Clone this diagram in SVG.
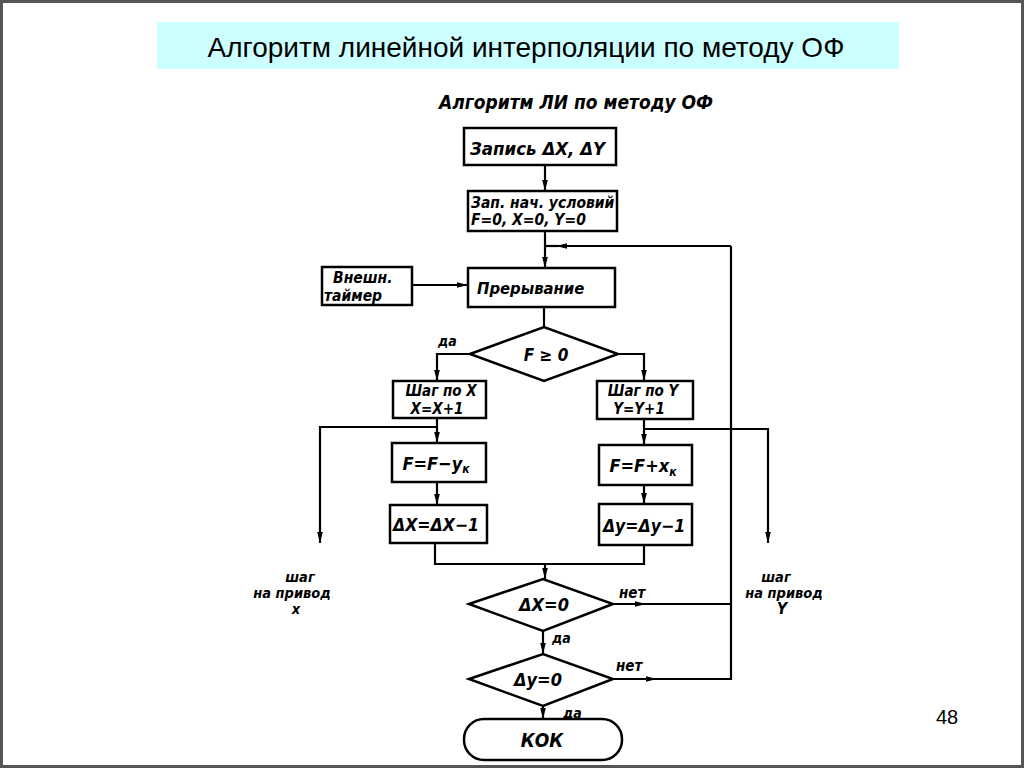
<svg xmlns="http://www.w3.org/2000/svg" width="1024" height="768" viewBox="0 0 1024 768">
<style>
.frame{fill:#fff;stroke:#555;stroke-width:3}
.box{fill:#fff;stroke:#000;stroke-width:2.5}
.ln{fill:none;stroke:#000;stroke-width:2.2}
.t{font-family:"DejaVu Sans Condensed","DejaVu Sans",sans-serif;font-style:oblique;font-weight:bold;fill:#000}
.c{text-anchor:middle}
.title{font-family:"Liberation Sans",Arial,sans-serif;font-size:28px;fill:#000;text-anchor:middle}
</style>
<defs>
<marker id="arr" markerWidth="12" markerHeight="8" refX="11" refY="4" orient="auto" markerUnits="userSpaceOnUse">
<path d="M0,1.2 L11,4 L0,6.8 Z" fill="#000"/>
</marker>
</defs>
<rect class="frame" x="1.5" y="1.5" width="1021" height="765"/>
<g id="header">
<rect x="157" y="22" width="742" height="47" fill="#ccffff"/>
<text class="title" x="526" y="57">Алгоритм линейной интерполяции по методу ОФ</text>
</g>
<text class="t c" x="576" y="109" font-size="19">Алгоритм  ЛИ  по методу ОФ</text>

<g id="connectors">
<path class="ln" d="M545,165 V191" marker-end="url(#arr)"/>
<path class="ln" d="M545,231 V268" marker-end="url(#arr)"/>
<path class="ln" d="M731,246 H556" marker-end="url(#arr)"/>
<path class="ln" d="M558,246 H545"/>
<path class="ln" d="M412,285 H468" marker-end="url(#arr)"/>
<path class="ln" d="M544,307 V327"/>
<path class="ln" d="M470,354 H437 V381" marker-end="url(#arr)"/>
<path class="ln" d="M618,354 H644 V381" marker-end="url(#arr)"/>
<path class="ln" d="M437,418 V443" marker-end="url(#arr)"/>
<path class="ln" d="M437,427 H320 V543" marker-end="url(#arr)"/>
<path class="ln" d="M437,482 V505" marker-end="url(#arr)"/>
<path class="ln" d="M644,419 V445" marker-end="url(#arr)"/>
<path class="ln" d="M644,429 H768 V543" marker-end="url(#arr)"/>
<path class="ln" d="M644,485 V504" marker-end="url(#arr)"/>
<path class="ln" d="M435,543 V564 H644 V545"/>
<path class="ln" d="M545,564 V579" marker-end="url(#arr)"/>
<path class="ln" d="M613,604 H646" marker-end="url(#arr)"/>
<path class="ln" d="M644,604 H731"/>
<path class="ln" d="M543,631 V654" marker-end="url(#arr)"/>
<path class="ln" d="M613,679 H657" marker-end="url(#arr)"/>
<path class="ln" d="M655,679 H731 V246"/>
<path class="ln" d="M543,706 V719" marker-end="url(#arr)"/>
</g>

<g id="n-zapis">
<rect class="box" x="464" y="128" width="152" height="37"/>
<text class="t" x="470" y="155" font-size="18.5">Запись ΔX, ΔY</text>
</g>
<g id="n-init">
<rect class="box" x="468" y="191" width="149" height="40"/>
<text class="t" x="471" y="208" font-size="15.5">Зап. нач. условий</text>
<text class="t" x="471" y="225" font-size="15.5">F=0,  X=0,  Y=0</text>
</g>
<g id="n-timer">
<rect class="box" x="322" y="267" width="90" height="38"/>
<text class="t" x="333" y="283" font-size="15.5">Внешн.</text>
<text class="t" x="324" y="301" font-size="15.5">таймер</text>
</g>
<g id="n-int">
<rect class="box" x="468" y="268" width="147" height="39"/>
<text class="t" x="477" y="294" font-size="16.5">Прерывание</text>
</g>
<g id="n-f0">
<polygon class="box" points="470,354 544,327 618,354 544,381"/>
<text class="t c" x="546" y="361" font-size="17">F ≥ 0</text>
<text class="t" x="438" y="346" font-size="14">да</text>
</g>
<g id="n-stepx">
<rect class="box" x="393" y="381" width="93" height="37"/>
<text class="t c" x="441" y="396" font-size="15">Шаг по X</text>
<text class="t c" x="437" y="414" font-size="15">X=X+1</text>
</g>
<g id="n-stepy">
<rect class="box" x="597" y="381" width="96" height="38"/>
<text class="t c" x="643" y="396" font-size="15">Шаг по Y</text>
<text class="t c" x="639" y="414" font-size="15">Y=Y+1</text>
</g>
<g id="n-ffy">
<rect class="box" x="392" y="443" width="94" height="39"/>
<text class="t c" x="436" y="470" font-size="18">F=F−y<tspan font-size="12" dy="3">к</tspan></text>
</g>
<g id="n-ffx">
<rect class="box" x="599" y="445" width="93" height="40"/>
<text class="t c" x="643" y="472" font-size="18">F=F+x<tspan font-size="12" dy="4">к</tspan></text>
</g>
<g id="n-dx">
<rect class="box" x="390" y="505" width="97" height="38"/>
<text class="t c" x="436" y="531" font-size="17.5">ΔX=ΔX−1</text>
</g>
<g id="n-dy">
<rect class="box" x="599" y="504" width="93" height="41"/>
<text class="t c" x="644" y="532" font-size="17.5">Δy=Δy−1</text>
</g>
<g id="n-outx">
<text class="t c" x="300" y="582" font-size="14.5">шаг</text>
<text class="t c" x="292" y="598" font-size="14.5">на привод</text>
<text class="t c" x="296" y="614" font-size="14.5">x</text>
</g>
<g id="n-outy">
<text class="t c" x="776" y="582" font-size="14.5">шаг</text>
<text class="t c" x="784" y="598" font-size="14.5">на привод</text>
<text class="t c" x="782" y="614" font-size="16">Y</text>
</g>
<g id="n-dx0">
<polygon class="box" points="469,604 543,579 613,604 543,631"/>
<text class="t c" x="544" y="611" font-size="18">ΔX=0</text>
<text class="t" x="619" y="598" font-size="15">нет</text>
<text class="t" x="552" y="643" font-size="14">да</text>
</g>
<g id="n-dy0">
<polygon class="box" points="469,679 543,654 613,679 543,706"/>
<text class="t c" x="538" y="686" font-size="18">Δy=0</text>
<text class="t" x="616" y="671" font-size="15">нет</text>
<text class="t" x="563" y="718" font-size="14">да</text>
</g>
<g id="n-end">
<rect class="box" x="464" y="719" width="158" height="41" rx="20" ry="20"/>
<text class="t c" x="542" y="747" font-size="19">КОК</text>
</g>
<text x="947" y="724" font-family="Liberation Sans,Arial,sans-serif" font-size="20" text-anchor="middle" fill="#000">48</text>
</svg>
